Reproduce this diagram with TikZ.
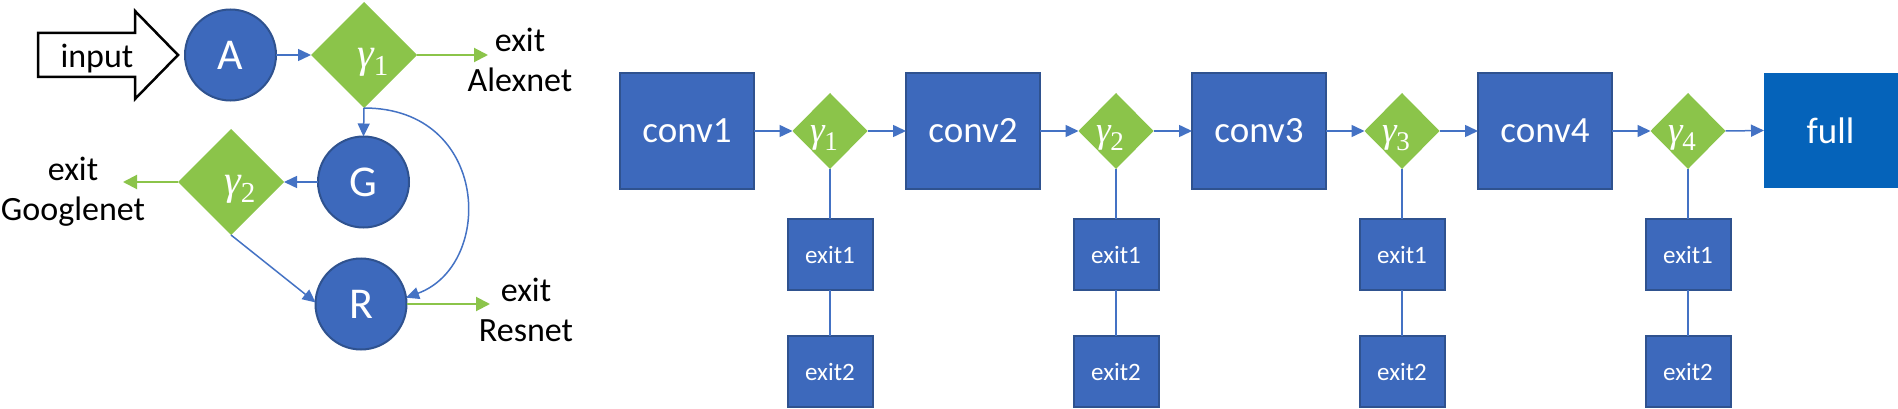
\documentclass[tikz,border=0pt]{standalone}
\usepackage{fontspec}
\setmainfont{Carlito}
\newfontfamily\gfont{Liberation Serif}
\usetikzlibrary{shapes.geometric,arrows.meta,calc}
\definecolor{cblue}{RGB}{61,105,188}
\definecolor{cborder}{RGB}{47,82,143}
\definecolor{lblue}{RGB}{68,114,196}
\definecolor{cgreen}{RGB}{139,196,74}
\definecolor{fblue}{RGB}{5,99,186}
\newcommand{\gamA}[1]{{\gfont\itshape γ\/}\kern-1pt\raisebox{-8pt}{\fontsize{29}{30}\selectfont\gfont #1}}
\newcommand{\gamB}[1]{{\gfont\itshape γ\/}\kern-1pt\raisebox{-8pt}{\fontsize{27}{30}\selectfont\gfont #1}}
\begin{document}
\begin{tikzpicture}[x=1pt,y=-1pt,
  circ/.style={circle, fill=cblue, draw=cborder, line width=2pt, minimum size=91pt, inner sep=0pt, outer sep=0pt, text=white, font=\fontsize{44}{50}\selectfont},
  bigdia/.style={diamond, fill=cgreen, draw=none, inner sep=0pt, outer sep=0pt, minimum width=106pt, minimum height=106pt},
  sdia/.style={diamond, fill=cgreen, draw=none, inner sep=0pt, outer sep=0pt, minimum width=75pt, minimum height=76pt},
  gA/.style={text=white, font=\fontsize{42}{48}\selectfont, inner sep=0pt},
  gB/.style={text=white, font=\fontsize{37}{42}\selectfont, inner sep=0pt},
  convbox/.style={rectangle, fill=cblue, draw=cborder, line width=2pt, minimum width=134pt, minimum height=116pt, inner sep=0pt, outer sep=0pt, text=white, font=\fontsize{37}{44}\selectfont},
  fullbox/.style={rectangle, fill=fblue, draw=fblue, line width=1pt, minimum width=133pt, minimum height=113pt, inner sep=0pt, outer sep=0pt, text=white, font=\fontsize{37}{44}\selectfont},
  exbox/.style={rectangle, fill=cblue, draw=cborder, line width=2pt, minimum width=85pt, minimum height=71pt, inner sep=0pt, outer sep=0pt, text=white, font=\fontsize{25}{30}\selectfont},
  lab/.style={anchor=base, align=center, font=\fontsize{34}{40}\selectfont, inner sep=0pt},
  conn/.style={draw=lblue, line width=1.5pt},
  bar/.style={conn, -{Triangle[length=13pt,width=12pt]}},
  garr/.style={draw=cgreen, line width=2pt, -{Triangle[length=14pt,width=14pt]}}
]
\useasboundingbox[fill=white] (0,0) rectangle (1898,409);

% ---------- left diagram ----------
\draw[black, line width=2.5pt, fill=white, line join=miter]
  (38,33) -- (135,33) -- (135,11) -- (178,55) -- (135,99) -- (135,77) -- (38,77) -- cycle;
\node[lab] (inp) at (97,68) {input};

\node[circ] (A) at (230.5,55) {A};
\node[bigdia, label={[gA, xshift=9pt, yshift=-7pt]center:\gamA{1}}] (ga) at (364,55) {};
\node[circ] (G) at (363.5,182) {G};
\node[bigdia, label={[gA, xshift=9pt, yshift=-7pt]center:\gamA{2}}] (gb) at (231,182) {};
\node[circ] (R) at (361,304) {R};

\coordinate (eA) at (488,55);
\coordinate (eG) at (123,182);
\coordinate (eR) at (490,304);
\node[lab] (tA) at (520,92) {exit\\Alexnet};
\node[lab] (tG) at (73,220) {exit\\Googlenet};
\node[lab] (tR) at (526,341) {exit\\Resnet};

\draw[bar] (A.east) -- (ga.west);
\draw[garr] (ga.east) -- (eA);
\draw[bar] (ga.south) -- (G.north);
\draw[bar] (ga.south) .. controls (490,108) and (495,265) .. (R.8);
\draw[bar] (G.west) -- (gb.east);
\draw[garr] (gb.west) -- (eG);
\draw[bar] (gb.south) -- (R.178);
\draw[garr] (R.east) -- (eR);

% ---------- right diagram ----------
\foreach \i/\cx/\dx in {1/687/830, 2/973/1116, 3/1259/1402, 4/1545/1688} {
  \node[convbox] (c\i) at (\cx,131) {conv\i};
  \node[sdia, label={[gB, xshift=-6pt, yshift=-7pt]center:\gamB{\i}}] (d\i) at (\dx,131) {};
  \node[exbox] (xa\i) at (\dx,254.5) {exit1};
  \node[exbox] (xb\i) at (\dx,371.5) {exit2};
  \draw[conn] (d\i.south) -- (xa\i.north);
  \draw[conn] (xa\i.south) -- (xb\i.north);
  \draw[bar] (c\i.east) -- (d\i.west);
}
\node[fullbox] (full) at (1830.5,130.5) {full};
\draw[bar] (d1.east) -- (c2.west);
\draw[bar] (d2.east) -- (c3.west);
\draw[bar] (d3.east) -- (c4.west);
\draw[bar] (d4.east) -- (full.west);
\end{tikzpicture}
\end{document}
